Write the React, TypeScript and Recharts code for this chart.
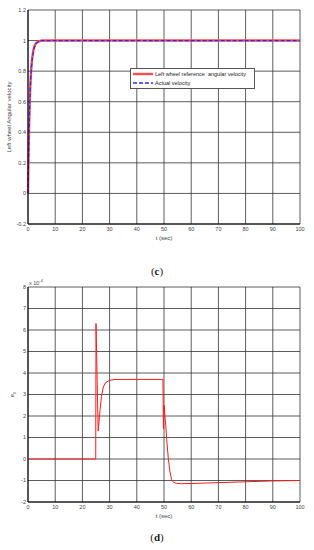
import React from "react";
import {
  CartesianGrid,
  Label,
  Line,
  LineChart,
  XAxis,
  YAxis,
} from "recharts";

// (c) left wheel angular velocity step response
const timeC = [0, 0.2, 0.4, 0.6, 0.8, 1, 1.25, 1.5, 2, 2.5, 3, 4, 5, 10, 20, 30, 40, 50, 60, 70, 80, 90, 100];
const refVelocity = [0, 0.25, 0.43, 0.57, 0.68, 0.76, 0.83, 0.88, 0.94, 0.97, 0.985, 0.995, 1, 1, 1, 1, 1, 1, 1, 1, 1, 1, 1];
const actVelocity = [0, 0.24, 0.42, 0.56, 0.67, 0.75, 0.82, 0.87, 0.93, 0.965, 0.982, 0.994, 1, 1, 1, 1, 1, 1, 1, 1, 1, 1, 1];

// (d) error e0, in units of 1e-4
const timeD = [0, 24.9, 25, 25.8, 26.5, 27, 27.7, 28.5, 30, 32, 49.6, 49.8, 50, 50.5, 51, 51.6, 52.2, 52.8, 53.5, 54.5, 56, 60, 70, 80, 90, 100];
const errorE0 = [0, 0, 6.3, 1.3, 2.3, 2.9, 3.35, 3.55, 3.66, 3.7, 3.7, 1.4, 2.5, 1.8, 0.9, 0, -0.6, -0.95, -1.08, -1.13, -1.15, -1.14, -1.1, -1.06, -1.02, -1.0];

const xTicks = [0, 10, 20, 30, 40, 50, 60, 70, 80, 90, 100];
const yTicksC = [-0.2, 0, 0.2, 0.4, 0.6, 0.8, 1, 1.2];
const yTicksD = [-2, -1, 0, 1, 2, 3, 4, 5, 6, 7, 8];

const dataC = timeC.map((t, i) => ({ t, ref: refVelocity[i], act: actVelocity[i] }));
const dataD = timeD.map((t, i) => ({ t, e0: errorE0[i] }));

const FONT = "Liberation Sans, Arial, sans-serif";
const tickStyle = { fontSize: 5.5, fill: "#444", fontFamily: FONT };

const xLabel = (props: any) => {
  const vb = props.viewBox;
  return (
    <text
      x={vb.x + vb.width / 2}
      y={vb.y + 16}
      textAnchor="middle"
      fontSize={6}
      fill="#444"
      fontFamily={FONT}
    >
      t (sec)
    </text>
  );
};

const yLabel = (text: React.ReactNode, cx: number) => (props: any) => {
  const vb = props.viewBox;
  const cy = vb.y + vb.height / 2;
  return (
    <text
      x={cx}
      y={cy}
      transform={`rotate(-90 ${cx} ${cy})`}
      textAnchor="middle"
      dominantBaseline="central"
      fontSize={6}
      fill="#444"
      fontFamily={FONT}
    >
      {text}
    </text>
  );
};

const caption = (letter: string, top: number) => (
  <div
    style={{
      position: "absolute",
      left: 0,
      width: 314,
      top,
      textAlign: "center",
      fontFamily: "Liberation Serif, serif",
      fontSize: 11,
      color: "#222",
    }}
  >
    (<b>{letter}</b>)
  </div>
);

export default function App() {
  return (
    <div
      style={{
        position: "absolute",
        left: 0,
        top: 0,
        width: 314,
        height: 550,
        background: "#fff",
      }}
    >
      <div style={{ position: "absolute", left: 0, top: 0 }}>
        <LineChart
          width={314}
          height={260}
          data={dataC}
          margin={{ top: 10, right: 14, left: 0, bottom: 0 }}
        >
          <CartesianGrid stroke="#333" strokeWidth={0.8} />
          <XAxis
            dataKey="t"
            type="number"
            domain={[0, 100]}
            ticks={xTicks}
            height={36}
            tick={tickStyle}
            tickLine={false}
            tickSize={0}
            tickMargin={3}
            stroke="#000"
            interval={0}
          >
            <Label content={xLabel} />
          </XAxis>
          <YAxis
            type="number"
            domain={[-0.2, 1.2]}
            ticks={yTicksC}
            width={28}
            tick={tickStyle}
            tickLine={false}
            tickSize={0}
            tickMargin={2}
            stroke="#000"
            interval={0}
          >
            <Label content={yLabel("Left wheel Angular velocity", 9)} />
          </YAxis>
          <Line
            type="linear"
            dataKey="ref"
            stroke="#ff4d4d"
            strokeWidth={2.4}
            dot={false}
            isAnimationActive={false}
          />
          <Line
            type="linear"
            dataKey="act"
            stroke="#2a2aff"
            strokeWidth={1.3}
            strokeDasharray="4 2"
            dot={false}
            isAnimationActive={false}
          />
        </LineChart>
      </div>

      <div
        style={{
          position: "absolute",
          left: 130,
          top: 68,
          width: 123,
          height: 19,
          border: "0.8px solid #555",
          background: "#fff",
          fontFamily: FONT,
          fontSize: 5.5,
          color: "#222",
        }}
      >
        <div style={{ position: "absolute", left: 2, top: 2, display: "flex", alignItems: "center" }}>
          <svg width={20} height={6}>
            <line x1={0} y1={3} x2={20} y2={3} stroke="#ff4d4d" strokeWidth={2.4} />
          </svg>
          <span style={{ marginLeft: 2, whiteSpace: "pre" }}>Left wheel reference  angular velocity</span>
        </div>
        <div style={{ position: "absolute", left: 2, top: 11, display: "flex", alignItems: "center" }}>
          <svg width={20} height={6}>
            <line x1={0} y1={3} x2={20} y2={3} stroke="#2a2aff" strokeWidth={1.3} strokeDasharray="4 2" />
          </svg>
          <span style={{ marginLeft: 2 }}>Actual velocity</span>
        </div>
      </div>

      {caption("c", 265)}

      <div style={{ position: "absolute", left: 0, top: 277 }}>
        <LineChart
          width={314}
          height={260}
          data={dataD}
          margin={{ top: 10, right: 14, left: 0, bottom: 0 }}
        >
          <CartesianGrid stroke="#333" strokeWidth={0.8} />
          <XAxis
            dataKey="t"
            type="number"
            domain={[0, 100]}
            ticks={xTicks}
            height={35}
            tick={tickStyle}
            tickLine={false}
            tickSize={0}
            tickMargin={3}
            stroke="#000"
            interval={0}
          >
            <Label content={xLabel} />
          </XAxis>
          <YAxis
            type="number"
            domain={[-2, 8]}
            ticks={yTicksD}
            width={28}
            tick={tickStyle}
            tickLine={false}
            tickSize={0}
            tickMargin={2}
            stroke="#000"
            interval={0}
          >
            <Label
              content={yLabel(
                <>
                  e<tspan fontSize={4} dy={1.5}>0</tspan>
                </>,
                12
              )}
            />
          </YAxis>
          <Line
            type="linear"
            dataKey="e0"
            stroke="#ff1a1a"
            strokeWidth={1}
            dot={false}
            isAnimationActive={false}
          />
        </LineChart>
      </div>

      <div
        style={{
          position: "absolute",
          left: 29,
          top: 280,
          fontFamily: FONT,
          fontSize: 5.5,
          color: "#444",
          whiteSpace: "nowrap",
        }}
      >
        x 10<sup style={{ fontSize: 4, verticalAlign: "top", position: "relative", top: -2 }}>-4</sup>
      </div>

      {caption("d", 531)}
    </div>
  );
}
